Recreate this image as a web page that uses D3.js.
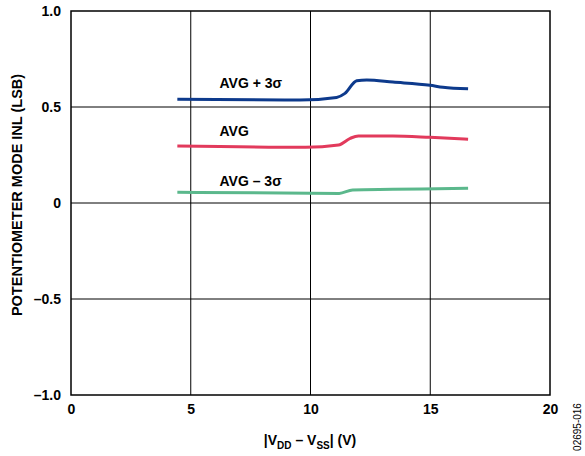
<!DOCTYPE html>
<html><head><meta charset="utf-8">
<script src="https://cdn.jsdelivr.net/npm/d3@7"></script>
<style>body{margin:0;background:#fff}svg{display:block}text{font-family:"Liberation Sans",Arial,sans-serif;font-weight:bold}</style>
</head><body><svg id="c" width="585" height="456"></svg>
<script>
const xTicks = [0, 5, 10, 15, 20];
const yTicks = [-1.0, -0.5, 0, 0.5, 1.0];
const yTickLabels = ["–1.0", "–0.5", "0", "0.5", "1.0"];
const supplyV = [4.44, 9.56, 11.09, 11.44, 11.93, 12.35, 13.44, 14.99, 15.53, 16.58];
const avgPlus3s = [0.540, 0.536, 0.550, 0.571, 0.637, 0.641, 0.630, 0.613, 0.603, 0.595];
const supplyVAvg = [4.44, 9.8, 11.17, 11.66, 12.0, 13.44, 14.99, 16.58];
const avg = [0.297, 0.290, 0.302, 0.337, 0.349, 0.349, 0.342, 0.332];
const supplyVMinus = [4.44, 11.2, 11.76, 13.44, 16.58];
const avgMinus3s = [0.056, 0.050, 0.068, 0.071, 0.077];
const seriesNames = ["AVG + 3σ", "AVG", "AVG – 3σ"];
const colors = ["#0d3a8c", "#e23a5c", "#5bb88c"];

const svg = d3.select("#c");
const L = 71, R = 550, T = 11, B = 395;
const x = d3.scaleLinear().domain([0, 20]).range([L, R]);
const y = d3.scaleLinear().domain([-1, 1]).range([B, T]);

// grid
svg.append("g").selectAll("line").data(xTicks.slice(1, -1)).join("line")
  .attr("x1", d => x(d)).attr("x2", d => x(d)).attr("y1", T).attr("y2", B)
  .attr("stroke", "#000").attr("stroke-width", 1);
svg.append("g").selectAll("line").data(yTicks.slice(1, -1)).join("line")
  .attr("y1", d => y(d)).attr("y2", d => y(d)).attr("x1", L).attr("x2", R)
  .attr("stroke", "#000").attr("stroke-width", 1);
svg.append("rect").attr("x", L).attr("y", T).attr("width", R - L).attr("height", B - T)
  .attr("fill", "none").attr("stroke", "#000").attr("stroke-width", 1.5);

// axes labels
const xa = svg.append("g").attr("transform", `translate(0,${B})`)
  .call(d3.axisBottom(x).tickValues(xTicks).tickSize(0).tickPadding(9).tickFormat(d3.format("d")));
xa.select(".domain").remove();
xa.selectAll("text").attr("font-size", 14).attr("fill", "#000").style("font-family", "Liberation Sans, Arial").style("font-weight", "bold");
const ya = svg.append("g").attr("transform", `translate(${L},0)`)
  .call(d3.axisLeft(y).tickValues(yTicks).tickSize(0).tickPadding(10).tickFormat((d, i) => yTickLabels[i]));
ya.select(".domain").remove();
ya.selectAll("text").attr("font-size", 14).attr("fill", "#000").style("font-family", "Liberation Sans, Arial").style("font-weight", "bold");

// lines
const seriesData = [
  supplyV.map((v, i) => [v, avgPlus3s[i]]),
  supplyVAvg.map((v, i) => [v, avg[i]]),
  supplyVMinus.map((v, i) => [v, avgMinus3s[i]])
];
const line = d3.line().x(d => x(d[0])).y(d => y(d[1])).curve(d3.curveMonotoneX);
svg.append("g").selectAll("path").data(seriesData).join("path")
  .attr("d", line).attr("fill", "none")
  .attr("stroke", (d, i) => colors[i]).attr("stroke-width", 3);

// series labels
const labelPos = [[6.2, 0.599], [6.2, 0.349], [6.2, 0.088]];
svg.append("g").selectAll("text").data(seriesNames).join("text")
  .attr("x", (d, i) => x(labelPos[i][0])).attr("y", (d, i) => y(labelPos[i][1]))
  .attr("font-size", 14).attr("fill", "#000").text(d => d);

// axis titles
const xt = svg.append("text").attr("x", 310).attr("y", 445).attr("text-anchor", "middle").attr("font-size", 14);
xt.append("tspan").text("|V");
xt.append("tspan").attr("font-size", 10).attr("dy", 4).text("DD");
xt.append("tspan").attr("dy", -4).text(" – V");
xt.append("tspan").attr("font-size", 10).attr("dy", 4).text("SS");
xt.append("tspan").attr("dy", -4).text("| (V)");

svg.append("text").attr("transform", `translate(22,${(T + B) / 2 - 8}) rotate(-90)`)
  .attr("text-anchor", "middle").attr("font-size", 14.5).text("POTENTIOMETER MODE INL (LSB)");

svg.append("text").attr("transform", "translate(581,427) rotate(-90)")
  .attr("text-anchor", "middle").attr("font-size", 10).style("font-weight", "normal").text("02695-016");
</script></body></html>
